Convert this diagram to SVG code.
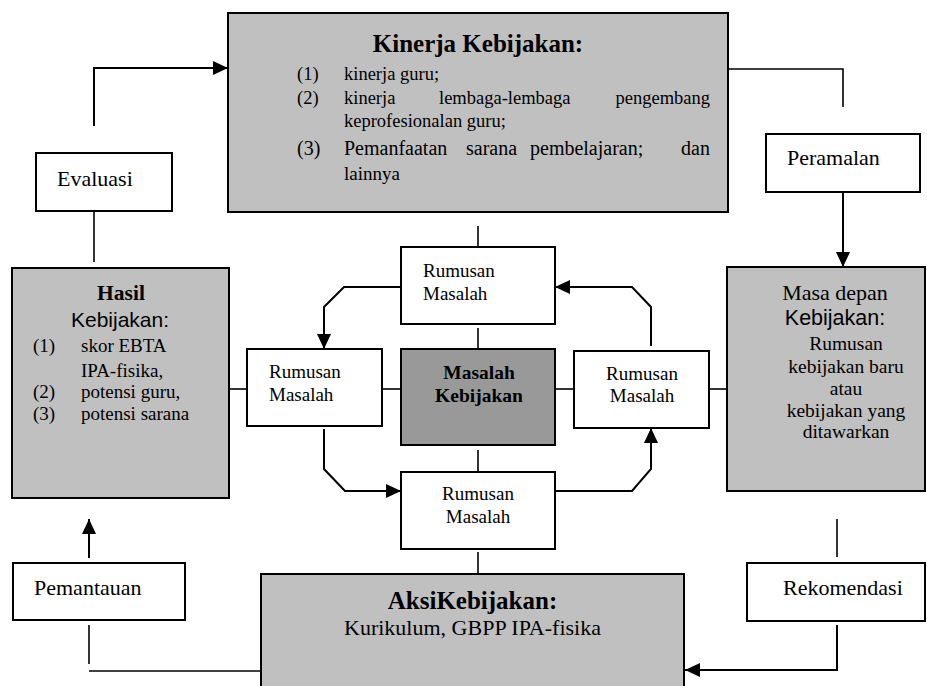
<svg xmlns="http://www.w3.org/2000/svg" width="927" height="686" viewBox="0 0 927 686">
<defs>
<marker id="ah" markerUnits="userSpaceOnUse" markerWidth="16" markerHeight="14" refX="15" refY="7" orient="auto">
<path d="M0,0 L15,7 L0,14 z" fill="#000"/>
</marker>
<style>
.box{stroke:#000;stroke-width:2}
.lg{fill:#c0c0c0}
.dg{fill:#999999}
.wh{fill:#fff}
.t{font-family:"Liberation Serif","Times New Roman",serif;fill:#000}
.s{font-family:"Liberation Sans",Arial,sans-serif;fill:#000}
.b{font-weight:bold}
.c{text-anchor:middle}
.ln{fill:none;stroke:#000;stroke-width:1.6}
.ar{fill:none;stroke:#000;stroke-width:2;marker-end:url(#ah)}
</style>
</defs>
<rect width="927" height="686" fill="#fff"/>

<g id="connectors">
<path class="ar" d="M94,126 V68 H228"/>
<path class="ln" d="M94,211 V262"/>
<path class="ln" d="M728,69 H843 V107"/>
<path class="ar" d="M843,192 V267"/>
<path class="ln" d="M478,226 V247"/>
<path class="ln" d="M478,328 V349"/>
<path class="ln" d="M478,450 V472"/>
<path class="ln" d="M478,552 V574"/>
<path class="ln" d="M229,389 H247"/>
<path class="ln" d="M382,389 H401"/>
<path class="ln" d="M555,389 H574"/>
<path class="ln" d="M709,389 H727"/>
<path class="ar" d="M401,287 H344 L324,307 V349"/>
<path class="ar" d="M324,429 V469 L345,491 H401"/>
<path class="ar" d="M555,491 H632 L651,469 V428"/>
<path class="ar" d="M651,346 V307 L632,287 H555"/>
<path class="ln" d="M837,519 V557"/>
<path class="ar" d="M837,625 V670 H685"/>
<path class="ln" d="M261,671 H89"/>
<path class="ln" d="M89,625 V664"/>
<path class="ar" d="M89,558 V519"/>
</g>

<g id="kinerja">
<rect class="box lg" x="228" y="13" width="500" height="199"/>
<text class="t b c" x="478" y="52" font-size="25">Kinerja Kebijakan:</text>
<text class="t" font-size="18.5"><tspan x="297" y="80">(1)</tspan><tspan x="344" y="80">kinerja guru;</tspan></text>
<text class="t" font-size="18.5"><tspan x="297" y="104">(2)</tspan><tspan x="344" y="104">kinerja</tspan><tspan x="439" y="104">lembaga-lembaga</tspan><tspan x="710" y="104" text-anchor="end">pengembang</tspan></text>
<text class="t" font-size="18.5" x="344" y="127">keprofesionalan guru;</text>
<text class="t" font-size="20"><tspan x="297" y="155">(3)</tspan><tspan x="344" y="155">Pemanfaatan</tspan><tspan x="466" y="155">sarana</tspan><tspan x="530" y="155">pembelajaran;</tspan><tspan x="710" y="155" text-anchor="end">dan</tspan></text>
<text class="t" font-size="19" x="344" y="180">lainnya</text>
</g>

<g id="evaluasi">
<rect class="box wh" x="36" y="153" width="136" height="58"/>
<text class="t" font-size="22" x="57" y="186">Evaluasi</text>
</g>

<g id="peramalan">
<rect class="box wh" x="766" y="134" width="154" height="58"/>
<text class="t" font-size="22" x="787" y="165">Peramalan</text>
</g>

<g id="hasil">
<rect class="box lg" x="12" y="268" width="217" height="230"/>
<text class="t b c" x="121" y="300" font-size="21.5">Hasil</text>
<text class="s c" x="120" y="327" font-size="21">Kebijakan:</text>
<text class="t" font-size="19"><tspan x="33" y="352">(1)</tspan><tspan x="81" y="352">skor EBTA</tspan></text>
<text class="t" font-size="19" x="81" y="377">IPA-fisika,</text>
<text class="t" font-size="19"><tspan x="33" y="398">(2)</tspan><tspan x="81" y="398">potensi guru,</tspan></text>
<text class="t" font-size="19"><tspan x="33" y="420">(3)</tspan><tspan x="81" y="420">potensi sarana</tspan></text>
</g>

<g id="masa-depan">
<rect class="box lg" x="727" y="267" width="198" height="224"/>
<text class="t c" x="835" y="300" font-size="22">Masa depan</text>
<text class="s c" x="835" y="325" font-size="21.5">Kebijakan:</text>
<text class="t c" font-size="19.5"><tspan x="846" y="350">Rumusan</tspan><tspan x="846" y="373">kebijakan baru</tspan><tspan x="846" y="395">atau</tspan><tspan x="846" y="417">kebijakan yang</tspan><tspan x="846" y="438">ditawarkan</tspan></text>
</g>

<g id="rumusan-top">
<rect class="box wh" x="401" y="247" width="154" height="77"/>
<text class="t" font-size="19"><tspan x="423" y="277">Rumusan</tspan><tspan x="423" y="300">Masalah</tspan></text>
</g>

<g id="rumusan-left">
<rect class="box wh" x="247" y="349" width="135" height="77"/>
<text class="t" font-size="19"><tspan x="269" y="378">Rumusan</tspan><tspan x="269" y="401">Masalah</tspan></text>
</g>

<g id="masalah-kebijakan">
<rect class="box dg" x="401" y="349" width="154" height="96"/>
<text class="t b c" font-size="19.5"><tspan x="479" y="379">Masalah</tspan><tspan x="479" y="402">Kebijakan</tspan></text>
</g>

<g id="rumusan-right">
<rect class="box wh" x="574" y="351" width="135" height="77"/>
<text class="t c" font-size="19"><tspan x="642" y="380">Rumusan</tspan><tspan x="642" y="402">Masalah</tspan></text>
</g>

<g id="rumusan-bottom">
<rect class="box wh" x="401" y="472" width="154" height="77"/>
<text class="t c" font-size="19"><tspan x="478" y="500">Rumusan</tspan><tspan x="478" y="523">Masalah</tspan></text>
</g>

<g id="pemantauan">
<rect class="box wh" x="13" y="563" width="172" height="57"/>
<text class="t" font-size="22" x="34" y="595">Pemantauan</text>
</g>

<g id="rekomendasi">
<rect class="box wh" x="747" y="563" width="178" height="58"/>
<text class="t" font-size="22" x="783" y="595">Rekomendasi</text>
</g>

<g id="aksi">
<rect class="box lg" x="261" y="574" width="423" height="120"/>
<text class="t b c" x="472.5" y="609" font-size="25">AksiKebijakan:</text>
<text class="t c" x="472.5" y="635" font-size="22">Kurikulum, GBPP IPA-fisika</text>
</g>
</svg>
